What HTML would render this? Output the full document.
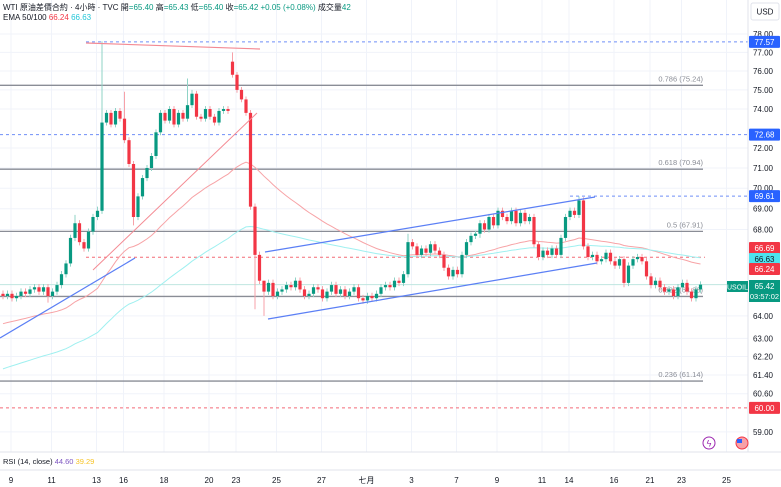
<!DOCTYPE html>
<html><head><meta charset="utf-8"><style>
body{margin:0;background:#fff;}
svg{display:block;font-family:"Liberation Sans","Noto Sans CJK TC",sans-serif;}
</style></head><body>
<svg id="c" width="781" height="487" viewBox="0 0 781 487">
<g id="grid"></g>
<g id="levels"></g>
<g id="ema"></g>
<g id="candles"></g>
<g id="draw"></g>
<g id="axis"></g>
<g id="xaxis"></g>
<text x="3" y="10" font-size="8" fill="#131722">WTI 原油差價合約 · 4小時 · TVC  <tspan fill="#131722">開</tspan><tspan fill="#089981">=65.40</tspan> 高<tspan fill="#089981">=65.43</tspan> 低<tspan fill="#089981">=65.40</tspan> 收<tspan fill="#089981">=65.42 +0.05 (+0.08%)</tspan> 成交量<tspan fill="#089981">42</tspan></text>
<text x="3" y="20" font-size="8" fill="#131722">EMA 50/100 <tspan fill="#f23645">66.24</tspan> <tspan fill="#22c6d8">66.63</tspan></text>
<rect x="751" y="3" width="28" height="17" rx="2" fill="#fff" stroke="#e0e3eb"/>
<text x="765" y="14.5" font-size="8" text-anchor="middle" fill="#131722">USD</text>
<line x1="0" y1="452" x2="781" y2="452" stroke="#e0e3eb"/>
<line x1="0" y1="470" x2="781" y2="470" stroke="#e0e3eb"/>
<text x="3" y="464" font-size="7.5" fill="#131722">RSI (14, close) <tspan fill="#7e57c2">44.60</tspan> <tspan fill="#f7c325">39.29</tspan></text>
<circle cx="709" cy="443" r="6" fill="#fff" stroke="#9c27b0"/>
<text x="709" y="446.5" font-size="9" text-anchor="middle" fill="#9c27b0">ϟ</text>
<circle cx="742" cy="443" r="6" fill="#f7a1a8" stroke="#f23645"/>
<rect x="737" y="439" width="5" height="4" fill="#2962ff"/>
</svg>
<script>
const closes=[64.9,65.0,64.8,64.9,65.1,65.0,65.2,65.3,65.1,65.3,64.9,65.1,65.4,65.9,66.4,67.6,68.3,67.4,67.1,67.9,68.6,68.9,73.3,73.8,73.2,73.9,73.5,72.4,71.2,68.6,69.6,70.5,71.0,71.6,72.8,73.8,73.4,74.0,73.2,73.8,73.5,74.2,74.8,73.6,73.5,74.0,73.6,73.3,73.9,74.0,73.9,75.8,75.0,74.5,73.8,69.1,66.8,65.6,65.1,65.5,64.9,65.1,65.2,65.4,65.3,65.6,65.2,64.9,65.0,65.3,65.2,64.8,65.1,65.4,65.0,65.2,64.9,65.1,65.3,64.8,64.7,64.9,64.8,65.0,65.3,65.4,65.3,65.6,65.5,65.9,67.4,67.2,66.8,67.1,66.9,67.3,67.0,66.8,66.2,65.8,66.1,65.9,66.8,67.4,67.7,67.8,68.3,68.0,68.6,68.2,68.9,68.6,68.4,68.9,68.3,68.8,68.4,68.6,67.3,66.7,67.0,66.8,67.1,66.8,67.6,68.6,68.9,68.7,69.4,67.2,66.7,66.8,66.5,66.6,66.9,66.5,66.3,66.6,65.5,66.3,66.6,66.7,66.5,65.8,65.4,65.6,65.3,65.1,65.2,64.9,65.3,65.5,65.1,64.8,65.2,65.42];
const openOverrides={0:65.0,51:76.5};
const highOverrides={22:77.6,21:69.1,27:74.9,41:75.6,42:75.0,51:77.0,58:65.6,90:67.8,128:69.6,16:68.7};
const lowOverrides={58:64.0,29:68.2,56:64.3,106:67.6,138:65.3,10:64.6};
const ema50Seed=63.6, ema100Seed=61.6;
const priceTicks=[78,77,76,75,74,72,71,70,69,68,64,63,62.2,61.4,60.6,59];
const fibLevels=[0.786,0.618,0.5,0.382,0.236];
const fibPrices=[75.24,70.94,67.91,64.88,61.14];
const dateLabels=["9","11","13","16","18","20","23","25","27","七月","3","7","9","11","14","16","21","23","25"];
const dateIdx=[0,9,19,25,34,44,50,59,69,79,89,99,108,118,124,134,142,149,159];

const NS="http://www.w3.org/2000/svg";
const X0=3, DX=4.5, PW=748, LBL=8;
const y=p=>34+Math.log(78/p)*1425;
const x=i=>X0+DX*i;
function el(g,tag,a){const e=document.createElementNS(NS,tag);for(const k in a)e.setAttribute(k,a[k]);document.getElementById(g).appendChild(e);return e;}

dateIdx.forEach((d,k)=>{
  const gl=el('grid','line',{x1:x(d)+LBL,x2:x(d)+LBL,y1:0,y2:452,stroke:'#f0f3fa'});
  
  
  const t=el('xaxis','text',{x:x(d)+LBL,y:483,'font-size':8,'text-anchor':'middle',fill:'#131722'});
  t.textContent=dateLabels[k];
  
  
});
priceTicks.forEach(p=>{
  const gl=el('grid','line',{x1:0,x2:PW,y1:y(p),y2:y(p),stroke:'#f0f3fa'});
  
  
  const t=el('axis','text',{x:763,y:y(p)+3,'font-size':8,'text-anchor':'middle',fill:'#131722'});
  t.textContent=p.toFixed(2);
  
  
});
el('axis','line',{x1:PW,x2:PW,y1:0,y2:452,stroke:'#e0e3eb'});

fibPrices.forEach((p,k)=>{
  const l=el('levels','line',{x1:0,x2:703,y1:y(p),y2:y(p),stroke:'#8a8d96','stroke-width':1.3});
  
  
  const t=el('levels','text',{x:703,y:y(p)-4,'font-size':7.5,'text-anchor':'end',fill:'#8a8d96'});
  t.textContent=fibLevels[k]+' ('+p.toFixed(2)+')';
  
  
});
function hline(x1,x2,p,col,name){const l=el('levels','line',{x1:x1,x2:x2,y1:y(p),y2:y(p),stroke:col,'stroke-dasharray':'3 3'});}
hline(86,PW,77.57,'#6f8ff7','resistance-77-57');
hline(0,PW,72.68,'#6f8ff7','resistance-72-68');
hline(570,PW,69.61,'#6f8ff7','resistance-69-61');
hline(86,705,66.69,'#f36b77','level-66-69');
hline(0,PW,60.0,'#f36b77','level-60');
const cur=el('levels','line',{x1:0,x2:PW,y1:y(65.42),y2:y(65.42),stroke:'#bfe6e0'});



function emaPath(seed,n){let e=seed,a=2/(n+1),d='';closes.forEach((c,i)=>{e=e+a*(c-e);d+=(i?'L':'M')+x(i).toFixed(1)+' '+y(e).toFixed(1);});return d;}
const e1=el('ema','path',{d:emaPath(ema50Seed,50),fill:'none',stroke:'#f7a3a6','stroke-width':1});


const e2=el('ema','path',{d:emaPath(ema100Seed,100),fill:'none',stroke:'#9ff0f0','stroke-width':1});



closes.forEach((c,i)=>{
  const o=(i in openOverrides)?openOverrides[i]:closes[i-1];
  const hi=(i in highOverrides)?highOverrides[i]:Math.max(o,c)+0.15;
  const lo=(i in lowOverrides)?lowOverrides[i]:Math.min(o,c)-0.15;
  const up=c>=o, col=up?'#089981':'#f23645', wcol=up?'#8fd3c6':'#f7a1a8';
  const w=el('candles','line',{x1:x(i),x2:x(i),y1:y(hi),y2:y(lo),stroke:wcol,'stroke-width':1});
  
  
  const top=y(Math.max(o,c)),bot=y(Math.min(o,c));
  const b=el('candles','rect',{x:x(i)-1.6,y:top,width:3.2,height:Math.max(1,bot-top),fill:col});
  
  
});

function seg(x1,y1,x2,y2,col,name,w){const l=el('draw','line',{x1:x1,y1:y1,x2:x2,y2:y2,stroke:col,'stroke-width':w||1.2});}
seg(86,43,260,49,'#f48a93','top-trendline');
seg(93,270,257,113,'#f48a93','rising-trendline',1);
seg(0,338,135,258,'#5b7ff5','support-trendline');
seg(265,252,595,197,'#5b7ff5','channel-upper');
seg(268,319,597,263,'#5b7ff5','channel-lower');

function tag(p,yy,bg,fg,name,h){const r=el('axis','rect',{x:749,y:yy-6,width:31,height:h||12,fill:bg,rx:1});const t=el('axis','text',{x:764.5,y:yy+3,'font-size':8,'text-anchor':'middle',fill:fg});t.textContent=p;}
tag('77.57',y(77.57),'#2962ff','#fff','tag-77-57');
tag('72.68',y(72.68),'#2962ff','#fff','tag-72-68');
tag('69.61',y(69.61),'#2962ff','#fff','tag-69-61');
tag('66.69',248,'#f23645','#fff','tag-66-69');
tag('66.63',259,'#4de3ee','#131722','tag-66-63');
tag('66.24',269,'#f23645','#fff','tag-66-24');
tag('60.00',y(60),'#f23645','#fff','tag-60');
const pr=el('axis','rect',{x:749,y:280,width:31,height:22,fill:'#089981'});


const t1=el('axis','text',{x:764.5,y:289,'font-size':8,'text-anchor':'middle',fill:'#fff'});t1.textContent='65.42';


const t2=el('axis','text',{x:764.5,y:299,'font-size':7.5,'text-anchor':'middle',fill:'#fff'});t2.textContent='03:57:02';


const sr=el('axis','rect',{x:727,y:281,width:21,height:11,fill:'#089981'});


const st=el('axis','text',{x:737.5,y:289.5,'font-size':7,'text-anchor':'middle',fill:'#fff'});st.textContent='USOIL';


</script>
</body></html>
